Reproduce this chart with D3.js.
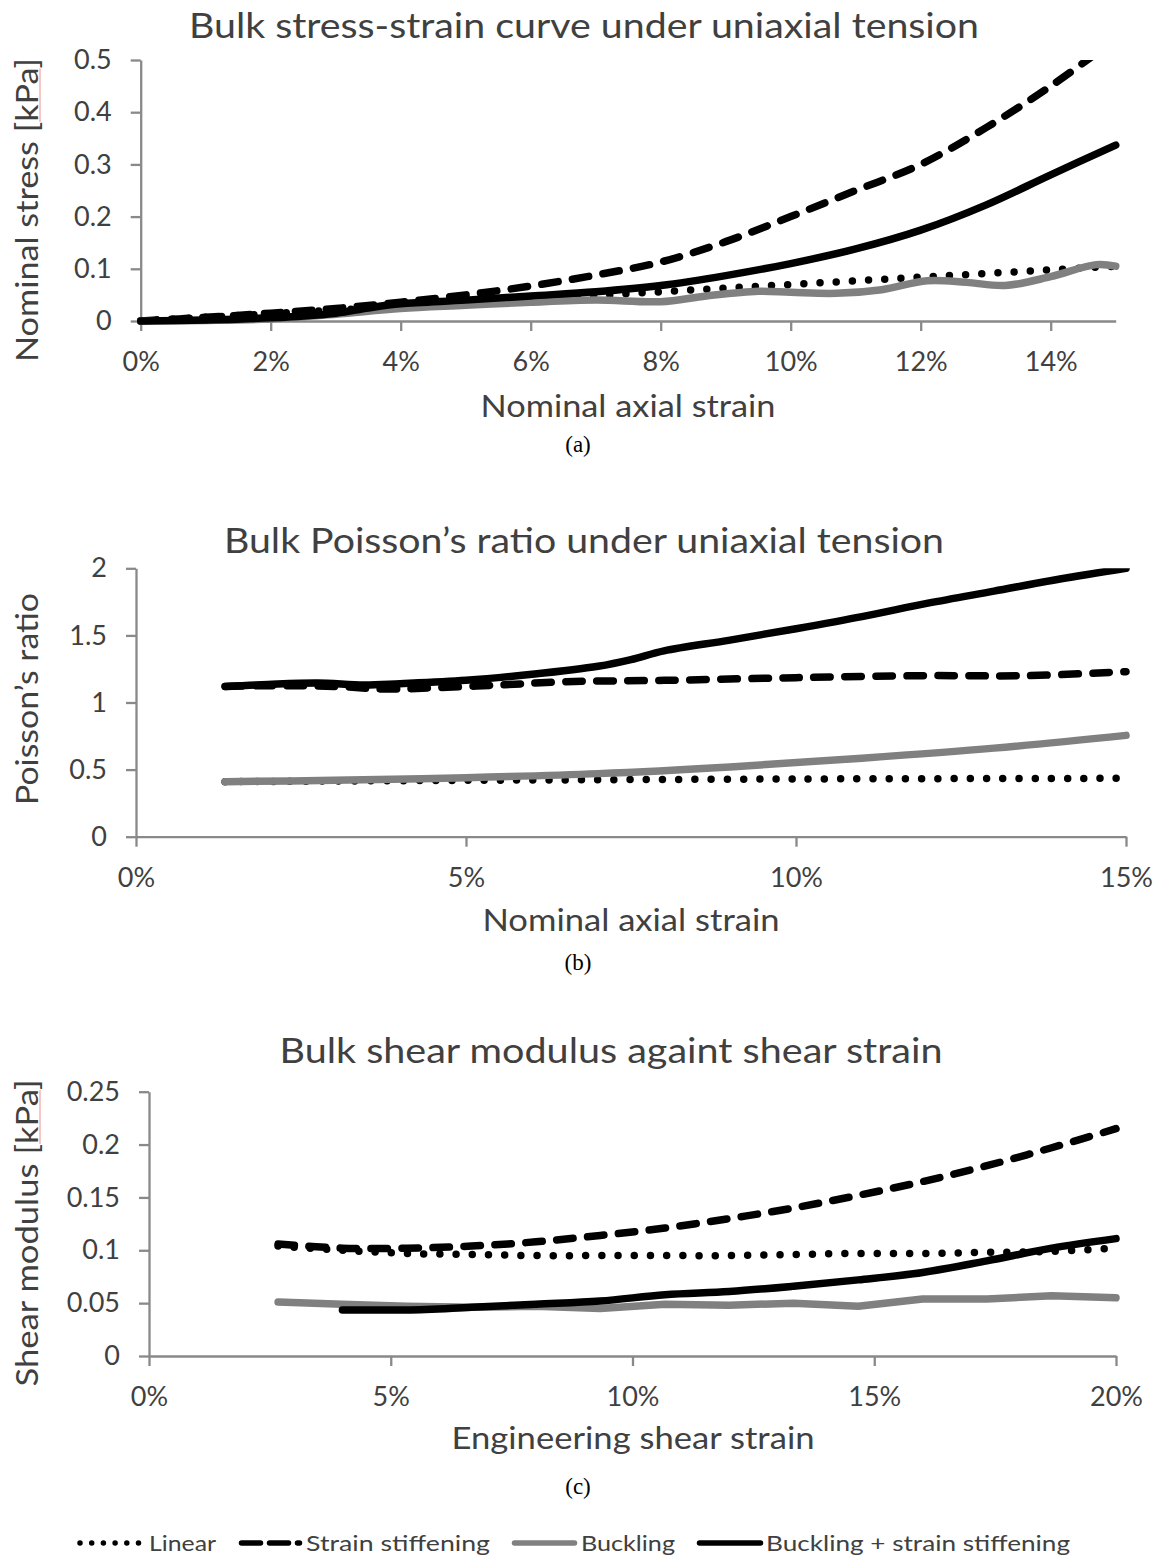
<!DOCTYPE html>
<html>
<head>
<meta charset="utf-8">
<script src="https://cdn.jsdelivr.net/npm/d3@7"></script>
<style>
  body { margin: 0; background: #fff; }
  svg text { font-family: Lato, "Open Sans", sans-serif; }
</style>
</head>
<body>
<svg id="fig" width="1163" height="1555"></svg>
<script>
// ---- data (x in %, y in the panel's unit) ----

// (a) nominal stress [kPa] vs nominal axial strain
var stressLinear = [[0,0],[1,0.007],[2,0.014],[3,0.021],[4,0.028],[5,0.035],[6,0.042],[7,0.049],[8,0.056],[9,0.063],[10,0.07],[11,0.077],[12,0.084],[13,0.091],[14,0.098],[15,0.105]];
var stressStiff = [[0,0],[1,0.007],[2,0.015],[3,0.024],[4,0.036],[5,0.05],[6,0.067],[7,0.088],[8,0.113],[9,0.152],[10,0.2],[11,0.25],[12,0.3],[13,0.37],[14,0.45],[15,0.54]];
var stressBuck = [[0,0],[1,0.001],[2,0.004],[3,0.013],[4,0.024],[5,0.03],[6,0.036],[7,0.04],[8,0.037],[8.7,0.048],[9.5,0.057],[10,0.055],[10.7,0.053],[11.4,0.06],[12.1,0.077],[12.7,0.074],[13.3,0.068],[14,0.085],[14.7,0.108],[15,0.105]];
var stressBoth = [[0,0],[1,0.002],[2,0.006],[3,0.015],[3.5,0.025],[4,0.033],[5,0.04],[6,0.048],[7,0.056],[8,0.068],[9,0.087],[10,0.11],[11,0.138],[12,0.174],[13,0.222],[14,0.28],[15,0.337]];

// (b) Poisson's ratio vs nominal axial strain
var poissonLinear = [[1.35,0.41],[5,0.42],[10,0.43],[15,0.435]];
var poissonStiff = [[1.35,1.12],[2,1.125],[3,1.12],[3.8,1.1],[4.5,1.11],[5.5,1.13],[6.5,1.155],[8,1.165],[10,1.185],[12,1.2],[13.5,1.2],[15,1.23]];
var poissonBuck = [[1.35,0.41],[3,0.42],[5,0.44],[7,0.47],[9,0.52],[11,0.585],[13,0.66],[15,0.755]];
var poissonBoth = [[1.35,1.12],[2,1.135],[2.75,1.145],[3.45,1.13],[4,1.14],[5,1.165],[6,1.21],[7,1.27],[7.5,1.32],[8,1.385],[9,1.465],[10,1.55],[11,1.64],[12,1.74],[13,1.83],[14,1.92],[15,2.0]];

// (c) shear modulus [kPa] vs engineering shear strain
var shearLinear = [[2.67,0.104],[4,0.1],[5.33,0.097],[6.67,0.096],[8,0.095],[9.33,0.095],[10.67,0.095],[12,0.095],[13.33,0.096],[14.67,0.097],[16,0.097],[17.33,0.098],[18.67,0.099],[20,0.102]];
var shearStiff = [[2.67,0.106],[4,0.102],[5.33,0.102],[6.67,0.104],[8,0.108],[9.33,0.114],[10.67,0.121],[12,0.13],[13.33,0.14],[14.67,0.152],[16,0.165],[17.33,0.18],[18.67,0.197],[20,0.215]];
var shearBuck = [[2.67,0.051],[4,0.049],[5.33,0.047],[6.67,0.046],[8,0.047],[9.33,0.045],[10.67,0.049],[12,0.048],[13.33,0.05],[14.67,0.047],[16,0.054],[17.33,0.054],[18.67,0.057],[20,0.055]];
var shearBoth = [[4,0.0435],[5.33,0.0435],[6.67,0.046],[8,0.049],[9.33,0.052],[10.67,0.058],[12,0.061],[13.33,0.066],[14.67,0.072],[16,0.079],[17.33,0.09],[18.67,0.102],[20,0.111]];

var seriesNames = ["Linear", "Strain stiffening", "Buckling", "Buckling + strain stiffening"];

var ticksA = [0,2,4,6,8,10,12,14];
var ticksAy = [0,0.1,0.2,0.3,0.4,0.5];
var ticksB = [0,5,10,15];
var ticksBy = [0,0.5,1,1.5,2];
var ticksC = [0,5,10,15,20];
var ticksCy = [0,0.05,0.1,0.15,0.2,0.25];

// ---- styles ----
var textCol = "#404040";
var axisCol = "#898989";
var styles = [
  {stroke: "#000", width: 7.5, dash: "0,16.2"},
  {stroke: "#000", width: 7.5, dash: "16.5,14.5"},
  {stroke: "#808080", width: 7.5, dash: null},
  {stroke: "#000", width: 7.5, dash: null}
];
// legend swatches are drawn thinner in the original
var legendStyles = [
  {width: 5.5, dash: "0,11.7"},
  {width: 5.5, dash: "19,9"},
  {width: 5.5, dash: null},
  {width: 5.5, dash: null}
];

var svg = d3.select("#fig");

// text stretched to a given length, like the original rendering
function label(g, str, size, len, anchor){
  return g.append("text")
    .attr("text-anchor", anchor || "middle")
    .attr("font-size", size)
    .attr("fill", textCol)
    .attr("textLength", len)
    .attr("lengthAdjust", "spacingAndGlyphs")
    .text(str);
}

// red spell-check underline below "kPa"
function squiggle(g, t){
  var s = t.text(), i = s.indexOf("kPa");
  if (i < 0) return;
  var a = t.node().getExtentOfChar(i), b = t.node().getExtentOfChar(i + 2);
  g.append("line")
    .attr("x1", a.x).attr("x2", b.x + b.width)
    .attr("y1", 2).attr("y2", 2)
    .attr("stroke", "#f2a0a0").attr("stroke-width", 1.2);
}

function drawPanel(p){
  var x = d3.scaleLinear().domain(p.xDomain).range([p.left, p.right]);
  var y = d3.scaleLinear().domain(p.yDomain).range([p.bottom, p.top]);
  var g = svg.append("g");

  // title
  label(g, p.title, 35, p.titleLen).attr("x", p.titleX).attr("y", p.titleY);

  // axes
  var xAxis = g.append("g")
    .attr("transform", "translate(0," + p.bottom + ")")
    .call(d3.axisBottom(x).tickValues(p.xTicks).tickSize(10).tickSizeOuter(0).tickPadding(21)
      .tickFormat(function(d){ return d + "%"; }));
  var yAxis = g.append("g")
    .attr("transform", "translate(" + p.left + ",0)")
    .call(d3.axisLeft(y).tickValues(p.yTicks).tickSize(10).tickSizeOuter(0).tickPadding(19)
      .tickFormat(function(d){ return String(d); }));
  [xAxis, yAxis].forEach(function(a){
    a.attr("font-family", "Lato").attr("font-size", 27);
    a.select(".domain").attr("stroke", axisCol).attr("stroke-width", 2.3);
    a.selectAll(".tick line").attr("stroke", axisCol).attr("stroke-width", 2.3);
    a.selectAll(".tick text").attr("fill", textCol);
  });

  // axis titles
  label(g, p.xTitle, 30, p.xTitleLen).attr("x", p.xTitleX).attr("y", p.xTitleY);
  var yt = g.append("g").attr("transform", "translate(38," + p.yTitleY + ") rotate(-90)");
  var ytext = label(yt, p.yTitle, 31, p.yTitleLen);
  squiggle(yt, ytext);

  // sub label
  g.append("text")
    .attr("x", 578).attr("y", p.subY)
    .attr("text-anchor", "middle")
    .style("font-family", "'Liberation Serif', 'Times New Roman', serif")
    .attr("font-size", 23).attr("fill", "#000")
    .text(p.sub);

  // lines
  var clipId = "clip" + p.sub.replace(/\W/g, "");
  g.append("clipPath").attr("id", clipId)
    .append("rect")
    .attr("x", p.left - 10).attr("y", p.top)
    .attr("width", p.right - p.left + 20).attr("height", p.bottom - p.top + 10);

  var lines = g.append("g").attr("clip-path", "url(#" + clipId + ")");
  p.series.forEach(function(s, i){
    var st = styles[i];
    var curve = (p.curves && p.curves[i]) || d3.curveCatmullRom.alpha(0.5);
    var line = d3.line()
      .x(function(d){ return x(d[0]); })
      .y(function(d){ return y(d[1]); })
      .curve(curve);
    var path = lines.append("path")
      .datum(s)
      .attr("d", line)
      .attr("fill", "none")
      .attr("stroke", st.stroke)
      .attr("stroke-width", st.width)
      .attr("stroke-linecap", "round")
      .attr("stroke-linejoin", "round");
    if (st.dash) path.attr("stroke-dasharray", st.dash);
  });
}

drawPanel({
  left: 140.7, right: 1115.7, top: 60, bottom: 321,
  xDomain: [0, 15], yDomain: [0, 0.5], xTicks: ticksA, yTicks: ticksAy,
  title: "Bulk stress-strain curve under uniaxial tension", titleX: 584, titleY: 38, titleLen: 790,
  xTitle: "Nominal axial strain", xTitleX: 628, xTitleY: 417, xTitleLen: 295,
  yTitle: "Nominal stress [kPa]", yTitleY: 210, yTitleLen: 304,
  sub: "(a)", subY: 452,
  series: [stressLinear, stressStiff, stressBuck, stressBoth]
});

drawPanel({
  left: 136, right: 1126, top: 568.3, bottom: 836.7,
  xDomain: [0, 15], yDomain: [0, 2], xTicks: ticksB, yTicks: ticksBy,
  title: "Bulk Poisson\u2019s ratio under uniaxial tension", titleX: 584, titleY: 553, titleLen: 720,
  xTitle: "Nominal axial strain", xTitleX: 631, xTitleY: 931, xTitleLen: 297,
  yTitle: "Poisson\u2019s ratio", yTitleY: 699, yTitleLen: 212,
  sub: "(b)", subY: 970,
  series: [poissonLinear, poissonStiff, poissonBuck, poissonBoth]
});

drawPanel({
  left: 149, right: 1116, top: 1091.7, bottom: 1356,
  xDomain: [0, 20], yDomain: [0, 0.25], xTicks: ticksC, yTicks: ticksCy,
  title: "Bulk shear modulus againt shear strain", titleX: 611, titleY: 1063, titleLen: 663,
  xTitle: "Engineering shear strain", xTitleX: 633, xTitleY: 1449, xTitleLen: 363,
  yTitle: "Shear modulus [kPa]", yTitleY: 1233, yTitleLen: 307,
  sub: "(c)", subY: 1494,
  series: [shearLinear, shearStiff, shearBuck, shearBoth],
  curves: [null, null, d3.curveLinear, d3.curveMonotoneX]
});

// ---- legend ----
var legendItems = [
  {sx: 80, ex: 138.5, tx: 149, len: 67},
  {sx: 241.5, ex: 299.5, tx: 306, len: 184},
  {sx: 514.5, ex: 574.5, tx: 581, len: 94},
  {sx: 699.5, ex: 760.5, tx: 766, len: 304}
];
var legend = svg.append("g");
legendItems.forEach(function(it, i){
  var ls = legendStyles[i];
  var l = legend.append("line")
    .attr("x1", it.sx).attr("x2", it.ex).attr("y1", 1543).attr("y2", 1543)
    .attr("stroke", styles[i].stroke).attr("stroke-width", ls.width)
    .attr("stroke-linecap", "round");
  if (ls.dash) l.attr("stroke-dasharray", ls.dash);
  label(legend, seriesNames[i], 22, it.len, "start")
    .attr("x", it.tx).attr("y", 1551);
});
</script>
</body>
</html>
